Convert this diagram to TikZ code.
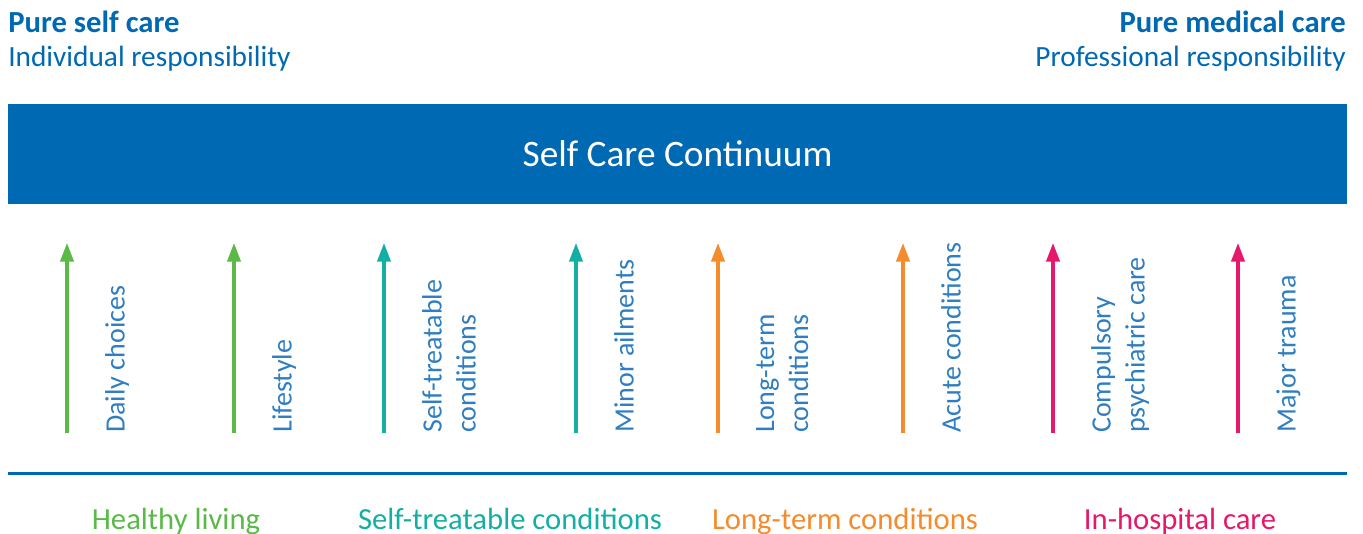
\documentclass[tikz,border=0pt]{standalone}
\usepackage{fontspec}
\setmainfont{Carlito}
\usetikzlibrary{arrows.meta}

\definecolor{scblue}{HTML}{0069B4}
\definecolor{sclabel}{HTML}{2F7EC2}
\definecolor{scgreen}{HTML}{5AB947}
\definecolor{scteal}{HTML}{14AFA4}
\definecolor{scorange}{HTML}{F48B2C}
\definecolor{scpink}{HTML}{E5186C}

\begin{document}
\begin{tikzpicture}[x=0.75pt,y=-0.75pt,
        careup/.style={line width=2.3pt,-{Triangle[width=10pt,length=14pt]}},
        itemlabel/.style={rotate=90,anchor=north west,inner sep=0pt,align=left,text=sclabel,
            font=\fontsize{21}{25.5}\selectfont},
        grouplabel/.style={anchor=base,inner sep=0pt,font=\fontsize{23}{27}\selectfont}]
        \useasboundingbox (0,0) rectangle (1363,533);

        % heading
        \node[anchor=base west,inner sep=0pt,text=scblue,font=\fontsize{23}{27}\selectfont\bfseries] (selfT) at (8,32) {Pure self care};
        \node[anchor=base west,inner sep=0pt,text=scblue,font=\fontsize{22}{26}\selectfont] (selfS) at (8,66) {Individual responsibility};
        \node[anchor=base east,inner sep=0pt,text=scblue,font=\fontsize{23}{27}\selectfont\bfseries] (medT) at (1346,32) {Pure medical care};
        \node[anchor=base east,inner sep=0pt,text=scblue,font=\fontsize{22}{26}\selectfont] (medS) at (1346,66) {Professional responsibility};

        \node[fill=scblue,inner sep=0pt,minimum width=1004.25pt,minimum height=75pt,text=white,
            font=\fontsize{28}{32}\selectfont] (band) at (677.5,154) {Self Care Continuum};

        % arrows
        \coordinate (d1) at (67,433);   \coordinate (u1) at (67,243);
        \coordinate (d2) at (234,433);  \coordinate (u2) at (234,243);
        \coordinate (d3) at (384,433);  \coordinate (u3) at (384,243);
        \coordinate (d4) at (576,433);  \coordinate (u4) at (576,243);
        \coordinate (d5) at (718,433);  \coordinate (u5) at (718,243);
        \coordinate (d6) at (903,433);  \coordinate (u6) at (903,243);
        \coordinate (d7) at (1053,433); \coordinate (u7) at (1053,243);
        \coordinate (d8) at (1238,433); \coordinate (u8) at (1238,243);

        \draw[careup,scgreen] (d1) -- (u1);
        \draw[careup,scgreen] (d2) -- (u2);
        \draw[careup,scteal] (d3) -- (u3);
        \draw[careup,scteal] (d4) -- (u4);
        \draw[careup,scorange] (d5) -- (u5);
        \draw[careup,scorange] (d6) -- (u6);
        \draw[careup,scpink] (d7) -- (u7);
        \draw[careup,scpink] (d8) -- (u8);

        \node[itemlabel] (daily) at (105,433) {Daily choices};
        \node[itemlabel] (life) at (272,433) {Lifestyle};
        \node[itemlabel] (selftreat) at (422,433) {Self-treatable\\conditions};
        \node[itemlabel] (minor) at (614,433) {Minor ailments};
        \node[itemlabel] (longterm) at (756,433) {Long-term\\conditions};
        \node[itemlabel] (acute) at (941,433) {Acute conditions};
        \node[itemlabel] (psych) at (1091,433) {Compulsory\\psychiatric care};
        \node[itemlabel] (trauma) at (1276,433) {Major trauma};

        % groups
        \coordinate (ruleL) at (8,473.5);
        \coordinate (ruleR) at (1347,473.5);
        \draw[scblue,line width=2.7pt] (ruleL) -- (ruleR);

        \node[grouplabel,text=scgreen] (healthy) at (176,529) {Healthy living};
        \node[grouplabel,text=scteal] (selfgroup) at (510,529) {Self-treatable conditions};
        \node[grouplabel,text=scorange] (longgroup) at (845,529) {Long-term conditions};
        \node[grouplabel,text=scpink] (hospital) at (1180,529) {In-hospital care};
\end{tikzpicture}
\end{document}
